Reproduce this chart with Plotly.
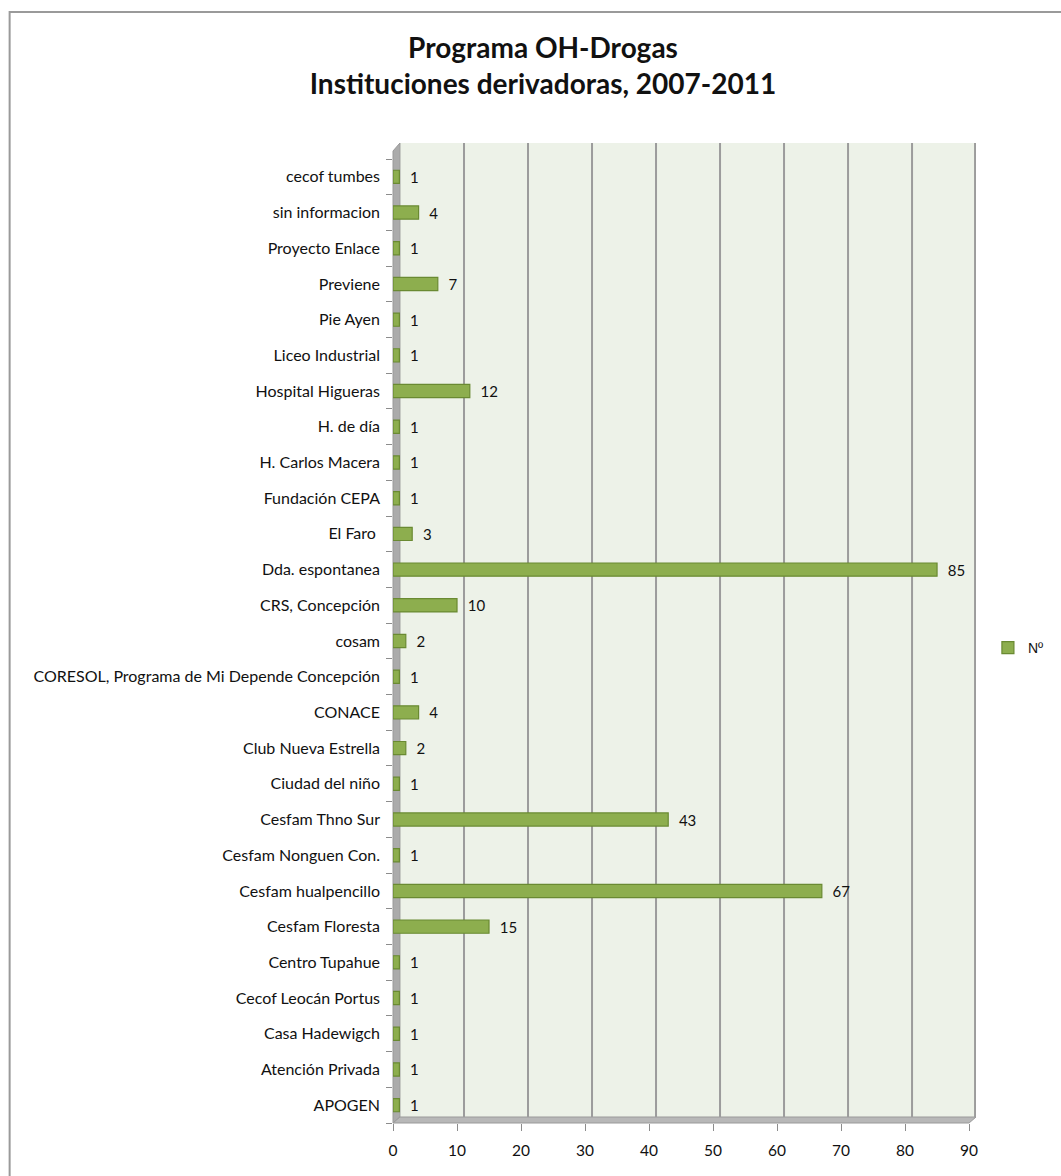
import plotly.graph_objects as go

# Referring institutions, listed bottom-to-top as they appear on the axis
instituciones = [
    "APOGEN", "Atención Privada", "Casa Hadewigch", "Cecof Leocán Portus",
    "Centro Tupahue", "Cesfam Floresta", "Cesfam hualpencillo",
    "Cesfam Nonguen Con.", "Cesfam Thno Sur", "Ciudad del niño",
    "Club Nueva Estrella", "CONACE", "CORESOL, Programa de Mi Depende Concepción",
    "cosam", "CRS, Concepción", "Dda. espontanea", "El Faro ", "Fundación CEPA",
    "H. Carlos Macera", "H. de día", "Hospital Higueras", "Liceo Industrial",
    "Pie Ayen", "Previene", "Proyecto Enlace", "sin informacion", "cecof tumbes",
]
casos = [1, 1, 1, 1, 1, 15, 67, 1, 43, 1, 2, 4, 1, 2, 10, 85, 3, 1, 1, 1,
         12, 1, 1, 7, 1, 4, 1]
x_ticks = [0, 10, 20, 30, 40, 50, 60, 70, 80, 90]
serie = "Nº"

W, H = 1061, 1176
L, R, T, B = 393, 980, 143, 1123          # plot-area box in pixels
X_MAX = 90 * (R - L) / (973 - L)           # 90 sits at x=973, wall goes to 980
DEPTH_X, DEPTH_Y = 7, 6                    # offset of the back wall


def px(x):
    return (x - L) / (R - L)


def py(y):
    return (B - y) / (B - T)


FONT = "Lato"

fig = go.Figure()
fig.add_trace(go.Bar(
    y=instituciones, x=casos, orientation="h", name=serie,
    width=0.37,
    marker=dict(color="#8DAE4E", line=dict(color="#6A8A32", width=1.2)),
    text=casos, texttemplate="  %{x}", textposition="outside",
    cliponaxis=False, constraintext="none",
    textfont=dict(family=FONT, size=15, color="#111111"),
))

shapes = []
# back wall
shapes.append(dict(type="rect", xref="paper", yref="paper", layer="below",
                   x0=px(L + DEPTH_X), x1=px(R), y0=py(B - DEPTH_Y), y1=py(T),
                   fillcolor="#EDF2E8", line=dict(width=0)))
# left wall
shapes.append(dict(type="path", xref="paper", yref="paper", layer="below",
                   path=(f"M {px(L)} {py(B)} L {px(L + DEPTH_X)} {py(B - DEPTH_Y)} "
                         f"L {px(L + DEPTH_X)} {py(T)} L {px(L)} {py(T + 8)} Z"),
                   fillcolor="#ABABAB", line=dict(color="#9A9A9A", width=1)))
# floor
shapes.append(dict(type="path", xref="paper", yref="paper", layer="below",
                   path=(f"M {px(L)} {py(B)} L {px(973)} {py(B)} "
                         f"L {px(R)} {py(B - DEPTH_Y)} L {px(L + DEPTH_X)} {py(B - DEPTH_Y)} Z"),
                   fillcolor="#B8B8B8", line=dict(color="#9A9A9A", width=1)))
# gridlines on the back wall
for v in x_ticks[1:]:
    off = DEPTH_X - (1 if v == 90 else 0)
    shapes.append(dict(type="line", xref="x", yref="paper", layer="below",
                       xsizemode="pixel", xanchor=v, x0=off, x1=off,
                       y0=py(B - DEPTH_Y), y1=py(T),
                       line=dict(color="#9C9C9C", width=2)))
# outer frame
shapes.append(dict(type="rect", xref="paper", yref="paper", layer="above",
                   x0=px(7), x1=px(1075), y0=py(1200), y1=py(12),
                   line=dict(color="#9A9A9A", width=2), fillcolor="rgba(0,0,0,0)"))

band = (B - 159) / 27
fig.update_layout(
    width=W, height=H,
    margin=dict(l=L, r=W - R, t=T, b=H - B),
    paper_bgcolor="white", plot_bgcolor="rgba(0,0,0,0)",
    title=dict(text="<b>Programa OH-Drogas<br>Instituciones derivadoras, 2007-2011</b>",
               font=dict(family=FONT, size=28, color="#111111"),
               x=543 / W, xanchor="center", xref="container",
               y=1 - 58 / H, yanchor="top", yref="container"),
    showlegend=True,
    legend=dict(x=px(992), y=py(648), xanchor="left", yanchor="middle",
                font=dict(family="Liberation Sans", size=14, color="#111111"),
                bgcolor="rgba(0,0,0,0)", itemwidth=30),
    shapes=shapes,
    xaxis=dict(range=[0, X_MAX], tickvals=x_ticks, showgrid=False, zeroline=False,
               showline=False, ticks="outside", ticklen=7, tickcolor="#8C8C8C",
               tickfont=dict(family=FONT, size=15.5, color="#111111"),
               ticklabelstandoff=6),
    yaxis=dict(type="category", categoryorder="array", categoryarray=instituciones,
               range=[-0.5, -0.5 + (B - T) / band], showgrid=False, zeroline=False,
               showline=False, ticks="outside", ticklen=6, tickcolor="#8C8C8C",
               tickson="boundaries",
               tickfont=dict(family=FONT, size=16, color="#111111"),
               ticklabelstandoff=12),
    bargap=0.63,
)

fig.write_html("out.html")
